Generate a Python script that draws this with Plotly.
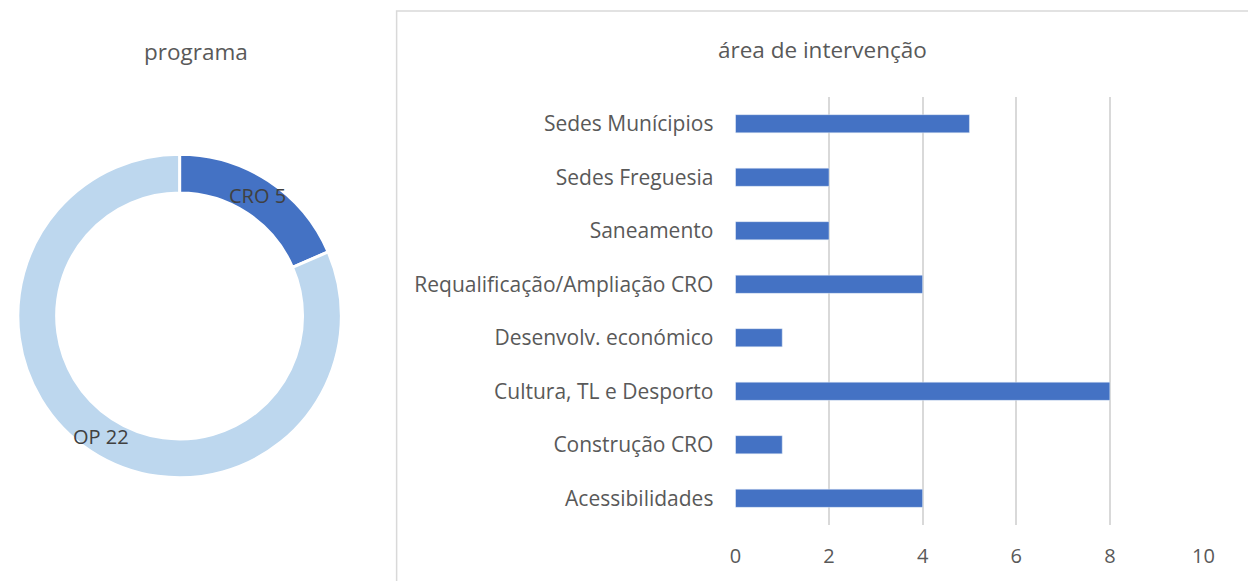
import math
import plotly.graph_objects as go

W, H = 1248, 581

prog_labels = ["CRO", "OP"]
prog_values = [5, 22]
prog_colors = ["#4472C4", "#BDD7EE"]

areas = ["Acessibilidades", "Construção CRO", "Cultura, TL e Desporto", "Desenvolv. económico",
         "Requalificação/Ampliação CRO", "Saneamento", "Sedes Freguesia", "Sedes Munícipios"]
area_values = [4, 1, 8, 1, 4, 2, 2, 5]
x_ticks = [0, 2, 4, 6, 8, 10]

FONT = "Open Sans"
TXT = "#595959"
GRID = "#D9D9D9"

# donut geometry (pixels)
CX, CY, R, HOLE = 176, 316, 164, 0.76

fig = go.Figure()

fig.add_trace(go.Pie(
    labels=prog_labels, values=prog_values, hole=HOLE, sort=False, direction="clockwise",
    rotation=0,
    marker=dict(colors=prog_colors, line=dict(color="white", width=3)),
    textinfo="none",
    domain=dict(x=[(CX - R) / W, (CX + R) / W], y=[(H - CY - R) / H, (H - CY + R) / H]),
    showlegend=False, hoverinfo="label+value",
))

# data labels placed at the middle of each ring segment
annotations = []
total = sum(prog_values)
cum = 0
rm = R * (1 + HOLE) / 2
for lab, v in zip(prog_labels, prog_values):
    ang = (cum + v / 2) / total * 2 * math.pi
    cum += v
    px = CX + rm * math.sin(ang)
    py = CY - rm * math.cos(ang)
    annotations.append(dict(text=f"{lab} {v}", x=px / W, y=(H - py) / H, xref="paper", yref="paper",
                            showarrow=False, font=dict(size=20, color="#404040"),
                            xanchor="center", yanchor="middle"))

fig.add_trace(go.Bar(
    y=areas, x=area_values, orientation="h", marker=dict(color="#4472C4"),
    width=0.34, showlegend=False, xaxis="x", yaxis="y",
))

annotations += [
    dict(text="programa", x=193 / W, y=(H - 52) / H, xref="paper", yref="paper",
         showarrow=False, font=dict(size=22.5, color=TXT), xanchor="center", yanchor="middle"),
    dict(text="área de intervenção", x=828 / W, y=(H - 49) / H, xref="paper", yref="paper",
         showarrow=False, font=dict(size=22.5, color=TXT), xanchor="center", yanchor="middle"),
]

fig.update_layout(
    width=W, height=H, margin=dict(l=0, r=0, t=0, b=0),
    paper_bgcolor="white", plot_bgcolor="white",
    font=dict(family=FONT, color=TXT),
    xaxis=dict(domain=[739.5 / W, 1214 / W], range=[0, 10], tickvals=x_ticks,
               showgrid=True, gridcolor=GRID, gridwidth=1.5, zeroline=False,
               showline=False, ticks="", tickfont=dict(size=20, color=TXT), ticklabelstandoff=17),
    yaxis=dict(domain=[(H - 525) / H, (H - 97) / H], categoryorder="array", categoryarray=areas,
               showgrid=False, zeroline=False, showline=False, ticks="",
               tickfont=dict(size=21, color=TXT), ticklabelstandoff=21),
    shapes=[dict(type="rect", xref="paper", yref="paper", x0=396 / W, x1=1.01,
                 y0=-0.01, y1=(H - 11) / H, line=dict(color=GRID, width=1.5),
                 fillcolor="rgba(0,0,0,0)", layer="below")],
    annotations=annotations,
)

fig.write_html("out.html", config={"displayModeBar": False},
               post_script="document.body.style.margin='0';document.body.style.overflow='hidden';")
